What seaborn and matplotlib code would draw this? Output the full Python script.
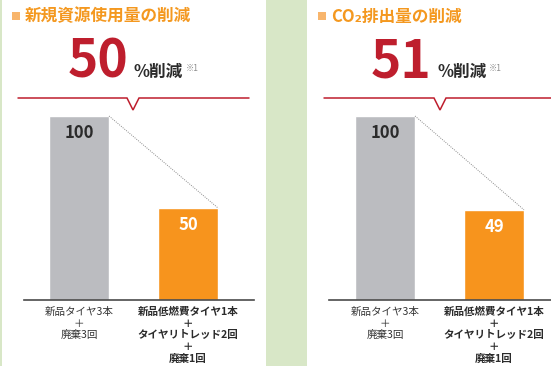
import matplotlib
matplotlib.use("Agg")
import matplotlib.pyplot as plt
import seaborn as sns
import pandas as pd

# --- data -------------------------------------------------------------
scenarios = [
    "新品タイヤ3本\n＋\n廃棄3回",
    "新品低燃費タイヤ1本\n＋\nタイヤリトレッド2回\n＋\n廃棄1回",
]
resource_values = [100, 50]
co2_values = [100, 49]
panel_titles = ["新規資源使用量の削減", "CO₂排出量の削減"]
reduction_pct = [50, 51]
reduction_suffix = "%削減"
footnote = "※1"

# --- style ------------------------------------------------------------
GRAY = "#BBBCC0"
ORANGE = "#F7941D"
RED = "#BE1E2D"
TITLE_ORANGE = "#F4981F"
SQUARE = "#F8B56C"
GREEN = "#D8E7C7"
AXIS = "#4A4A4A"
DARK = "#2B2B2B"
CJK = ["Noto Sans CJK JP", "DejaVu Sans"]

sns.set_theme(style="white")
plt.rcParams["font.family"] = CJK

W, H = 551, 366
fig = plt.figure(figsize=(W / 100, H / 100), dpi=100)
fig.patch.set_facecolor("white")

# background canvas in pixel units
bg = fig.add_axes([0, 0, 1, 1])
bg.set_xlim(0, W)
bg.set_ylim(H, 0)
bg.axis("off")
bg.add_patch(plt.Rectangle((266, 0), 41, H, color=GREEN, lw=0))
bg.add_patch(plt.Rectangle((0, 0), 2, H, color=GREEN, lw=0))


def panel(x0, x1, notch_x, sq_x, num_right, title, pct):
    # title with square marker
    bg.add_patch(plt.Rectangle((sq_x, 12), 8, 8, color=SQUARE, lw=0))
    bg.text(sq_x + 13, 16.5, title, fontsize=12, fontweight="bold",
            color=TITLE_ORANGE, ha="left", va="center", family=CJK)
    # big reduction figure
    bg.text(num_right + 1, 78, str(pct), fontsize=37, fontweight="bold",
            color=RED, ha="right", va="baseline", family=CJK)
    bg.text(num_right + 7, 77, reduction_suffix, fontsize=12,
            fontweight="bold", color=DARK, ha="left", va="baseline", family=CJK)
    bg.text(num_right + 59, 71, footnote, fontsize=6, color="#8C8C8C",
            ha="left", va="baseline", family=CJK)
    # red rule with downward notch
    bg.plot([x0, notch_x - 6, notch_x, notch_x + 6, x1],
            [98, 98, 110, 98, 98], color=RED, lw=1.1, solid_joinstyle="miter")


panel(18, 249, 133, 12, 127, panel_titles[0], reduction_pct[0])
panel(324, 551, 440, 318, 430, panel_titles[1], reduction_pct[1])

BAR_W = 0.55


def bars(left_px, right_px, lo, values):
    ax = fig.add_axes([left_px / W, (H - 300) / H, (right_px - left_px) / W, 184 / H])
    ax.patch.set_alpha(0)
    df = pd.DataFrame({"scenario": scenarios, "value": values})
    sns.barplot(data=df, x="scenario", y="value", hue="scenario",
                palette=[GRAY, ORANGE], width=BAR_W, saturation=1,
                legend=False, ax=ax)
    ax.set_xlim(lo, lo + (right_px - left_px) / 109)
    ax.set_ylim(0, 100)
    ax.set_xlabel("")
    ax.set_ylabel("")
    ax.set_yticks([])
    for s in ("left", "top", "right"):
        ax.spines[s].set_visible(False)
    ax.spines["bottom"].set_color(AXIS)
    ax.spines["bottom"].set_linewidth(1.2)
    ax.set_xticks([0, 1])
    ax.set_xticklabels(scenarios, fontsize=7.6, linespacing=1.2)
    ax.tick_params(axis="x", length=0, pad=5)
    for lbl, w, c in zip(ax.get_xticklabels(), ["normal", "bold"], ["#333333", DARK]):
        lbl.set_fontweight(w)
        lbl.set_color(c)
    # dotted connector between the right edges of the bar tops
    ax.plot([0 + BAR_W / 2, 1 + BAR_W / 2], values, ls=(0, (1, 1.3)),
            color="#8A8A8A", lw=0.7, clip_on=False)
    # value labels inside the bars
    for i, (v, c) in enumerate(zip(values, [DARK, "white"])):
        ax.annotate(str(v), xy=(i, v), xytext=(0, -12), textcoords="offset points",
                    ha="center", va="center", fontsize=12, fontweight="bold",
                    color=c, family=CJK)
    return ax


bars(24, 254, -0.505, resource_values)
bars(329, 551, -0.514, co2_values)

fig.savefig("out.png", dpi=100)
